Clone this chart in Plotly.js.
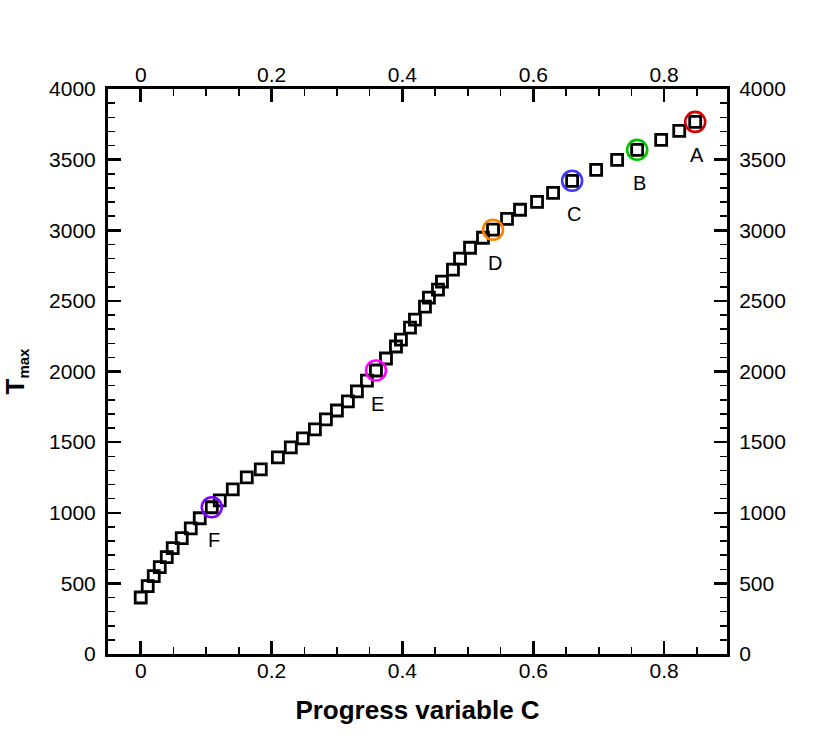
<!DOCTYPE html>
<html>
<head>
<meta charset="utf-8">
<script src="https://cdn.plot.ly/plotly-3.0.1.min.js"></script>
<style>body{margin:0;background:#fff}</style>
</head>
<body>
<div id="myPlot" style="width:828px;height:736px"></div>
<script>
// progress variable C vs. max temperature
let progress=[0,0.0107,0.0199,0.0291,0.0398,0.0489,0.0627,0.0765,0.0902,0.1086,
    0.1208,0.1407,0.1621,0.1835,0.2096,0.2294,0.2478,0.2662,0.2830,0.2998,
    0.3166,0.3304,0.3457,0.3595,0.3748,0.3901,0.3977,0.4115,0.4191,0.4344,
    0.4405,0.4543,0.4604,0.4772,0.4880,0.5033,0.5231,0.5384,0.5598,0.5797,
    0.6057,0.6302,0.6593,0.6960,0.7281,0.7587,0.7954,0.8230,0.8474]
let tmax=[400,481,551,615,686,749,820,890,961,1039,
    1088,1166,1251,1307,1392,1463,1527,1590,1661,1724,
    1788,1859,1936,2007,2092,2177,2226,2311,2367,2459,
    2523,2580,2636,2721,2799,2876,2947,3004,3081,3145,
    3201,3265,3350,3428,3498,3569,3640,3703,3767]

// marked points
let pointNames=['A','B','C','D','E','F']
let pointC=[0.8474,0.7587,0.6593,0.5384,0.3595,0.1086]
let pointT=[3767,3569,3350,3004,2007,1039]
let pointColors=['#d40000','#00c400','#3a3aff','#ff8000','#ff00ff','#7f00ff']

let fnt='Liberation Sans, Arial, Helvetica, sans-serif'

let data=[
    {x:progress,y:tmax,mode:'markers',type:'scatter',
     marker:{symbol:'square-open',size:11,color:'#000',line:{width:2.8}},
     hoverinfo:'x+y'},
    // circles sit on the mirrored axes so top/right axes get drawn
    {x:pointC,y:pointT,mode:'markers',type:'scatter',xaxis:'x2',yaxis:'y2',
     marker:{symbol:'circle-open',size:20,color:pointColors,line:{width:2.6}},
     hoverinfo:'skip'}
]

let annotations=pointNames.map((n,i)=>({
    x:pointC[i],y:pointT[i],text:n,showarrow:false,
    yshift:-33,xshift:2,font:{family:fnt,size:20,color:'#000'}
}))

let minorX={dtick:0.05,tick0:0,ticks:'inside',ticklen:7,tickwidth:1.5,tickcolor:'#000'}
let minorY={dtick:100,tick0:0,ticks:'inside',ticklen:7,tickwidth:1.5,tickcolor:'#000'}

let axisCommon={
    ticks:'inside',tickwidth:2.5,ticklen:13,tickcolor:'#000',
    showline:true,linewidth:3,linecolor:'#000',
    showgrid:false,zeroline:false,
    tickfont:{family:fnt,size:21,color:'#000'}
}

let layout={
    width:828,height:736,
    margin:{l:108,r:101,t:89,b:82},
    paper_bgcolor:'#fff',plot_bgcolor:'#fff',
    showlegend:false,
    font:{family:fnt,color:'#000'},
    xaxis:Object.assign({},axisCommon,{
        range:[-0.05,0.896],tick0:0,dtick:0.2,minor:minorX,
        ticklabelstandoff:-4,
        title:{text:'<b>Progress variable C</b>',font:{family:fnt,size:26,color:'#000'},standoff:20}
    }),
    yaxis:Object.assign({},axisCommon,{
        range:[0,4000],tick0:0,dtick:500,minor:minorY,
        ticklabelstandoff:5,
        title:{text:'<b>T<sub><span style="font-size:15px">max</span></sub></b>',font:{family:fnt,size:26,color:'#000'},standoff:22}
    }),
    xaxis2:Object.assign({},axisCommon,{
        overlaying:'x',side:'top',anchor:'y2',
        range:[-0.05,0.896],tick0:0,dtick:0.2,minor:minorX,
        ticklabelstandoff:-4
    }),
    yaxis2:Object.assign({},axisCommon,{
        overlaying:'y',side:'right',anchor:'x2',
        range:[0,4000],tick0:0,dtick:500,minor:minorY,
        ticklabelstandoff:5
    }),
    annotations:annotations
}

Plotly.newPlot('myPlot',data,layout,{displayModeBar:false,staticPlot:true})
</script>
</body>
</html>
